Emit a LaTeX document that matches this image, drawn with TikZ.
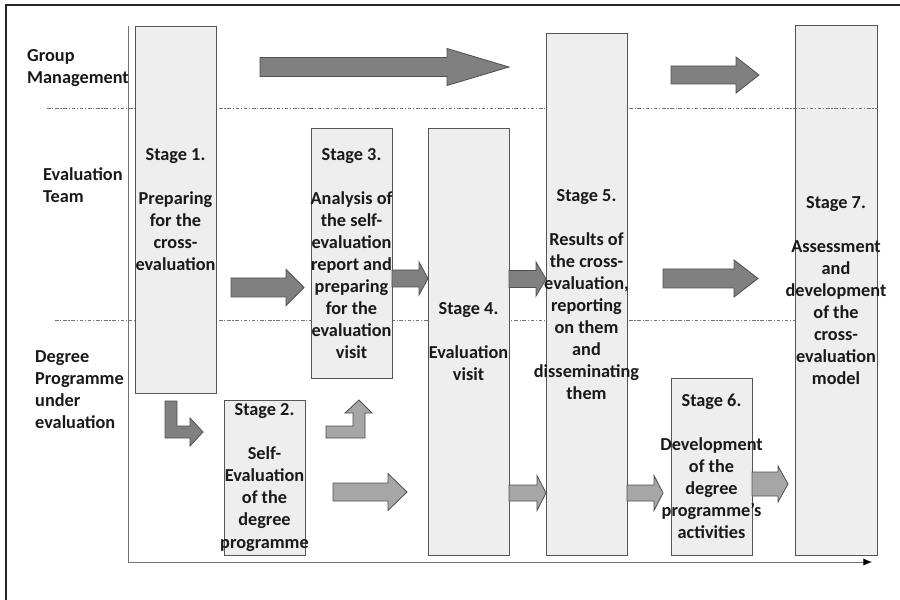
\documentclass[tikz,border=0pt]{standalone}
\usepackage{fontspec}
\setmainfont{Carlito}
\usetikzlibrary{arrows.meta}
\definecolor{boxfill}{RGB}{238,238,238}
\definecolor{boxline}{RGB}{85,85,85}
\definecolor{darkarrow}{RGB}{128,128,128}
\definecolor{lightarrow}{RGB}{166,166,166}
\definecolor{arrowline}{RGB}{80,80,80}
% block arrow: style, tail x, head start x, tip x, centre y, shaft half, head half
\newcommand{\blockarrow}[7]{\draw[#1] (#2,#5-#6) -- (#3,#5-#6) -- (#3,#5-#7) -- (#4,#5) -- (#3,#5+#7) -- (#3,#5+#6) -- (#2,#5+#6) -- cycle;}

\begin{document}
\begin{tikzpicture}[x=0.3mm,y=-0.3mm,
  every node/.style={font=\bfseries\fontsize{15.6}{18.8}\selectfont,text=black!90},
  stagebox/.style={draw=boxline,fill=boxfill,line width=0.3mm,inner sep=0,minimum width=24.3mm},
  stagetext/.style={align=center,inner sep=0},
  rowlabel/.style={align=left,anchor=west,inner sep=0},
  darkblock/.style={fill=darkarrow,draw=arrowline,line width=0.25mm},
  lightblock/.style={fill=lightarrow,draw=arrowline,line width=0.25mm},
  lane/.style={black!55,line width=0.22mm,dash pattern=on 3pt off 1.5pt on 1pt off 1.5pt}]
\useasboundingbox (0,0) rectangle (900,600);
\draw[line width=0.45mm,black!85] (6,600) -- (6,5) -- (900,5);

% time axis
\coordinate (origin) at (128,562);
\coordinate (top) at (128,26);
\coordinate (end) at (872,562);
\draw[gray!90!black,line width=0.3mm] (top) -- (origin);
\draw[gray!90!black,line width=0.3mm,-{Latex[length=2.6mm,width=2.2mm,fill=black,color=black]}] (origin) -- (end);

% lanes
\node[rowlabel] (gm) at (27,68) {Group\\Management};
\node[rowlabel] (et) at (43,185) {Evaluation\\Team};
\node[rowlabel] (dp) at (35,390) {Degree\\Programme\\under\\evaluation};

\node[stagebox,minimum width=24.6mm,minimum height=158.7mm] (s7) at (836,290.5) {};
\draw[lane] (47,108) -- (878,108);
\draw[lane] (55,320) -- (795,320);

% stages
\node[stagebox,minimum height=109.8mm] (s1) at (175.5,210) {};
\node[stagebox,minimum height=46.5mm] (s2) at (264.5,477.5) {};
\node[stagebox,minimum height=74.7mm] (s3) at (351.5,253.5) {};
\node[stagebox,minimum height=127.8mm] (s4) at (468.5,342) {};
\node[stagebox,minimum height=156.3mm] (s5) at (586.5,294.5) {};
\node[stagebox,minimum height=53.1mm] (s6) at (711.5,466.5) {};

% arrows
\blockarrow{darkblock}{260}{447}{509}{67}{9.5}{18.5}
\blockarrow{darkblock}{671}{736}{759}{75}{9}{18}
\blockarrow{darkblock}{231}{286}{304}{287.5}{9.5}{18}
\blockarrow{darkblock}{392}{419}{428}{278.5}{8.5}{16.5}
\blockarrow{darkblock}{509}{536}{546}{279}{8.5}{17}
\blockarrow{darkblock}{663}{734}{758}{278.5}{9.5}{18.5}
\blockarrow{lightblock}{333}{388}{407}{492}{9}{18.5}
\blockarrow{lightblock}{509}{537}{546}{493}{8}{17.5}
\blockarrow{lightblock}{627}{654}{663}{493}{8}{17.5}
\blockarrow{lightblock}{752}{778}{788}{484}{12}{18}
\draw[darkblock] (165,401) -- (177,401) -- (177,426) -- (190,426) -- (190,418) -- (203,432) -- (190,446) -- (190,438) -- (165,438) -- cycle;
\draw[lightblock] (326,426) -- (353,426) -- (353,413) -- (345,413) -- (359,400) -- (372,413) -- (365,413) -- (365,438) -- (326,438) -- cycle;

% stage texts
\node[stagetext] (t1) at (s1) {Stage 1.\\[18.8pt]Preparing\\for the\\cross-\\evaluation};
\node[stagetext] (t2) at (s2) {Stage 2.\\[18.8pt]Self-\\Evaluation\\of the\\degree\\programme};
\node[stagetext] (t3) at (s3) {Stage 3.\\[18.8pt]Analysis of\\the self-\\evaluation\\report and\\preparing\\for the\\evaluation\\visit};
\node[stagetext] (t4) at (s4) {Stage 4.\\[18.8pt]Evaluation\\visit};
\node[stagetext] (t5) at (s5) {Stage 5.\\[18.8pt]Results of\\the cross-\\evaluation,\\reporting\\on them\\and\\disseminating\\them};
\node[stagetext] (t6) at (s6) {Stage 6.\\[18.8pt]Development\\of the\\degree\\programme’s\\activities};
\node[stagetext] (t7) at (s7) {Stage 7.\\[18.8pt]Assessment\\and\\development\\of the\\cross-\\evaluation\\model};
\end{tikzpicture}
\end{document}
